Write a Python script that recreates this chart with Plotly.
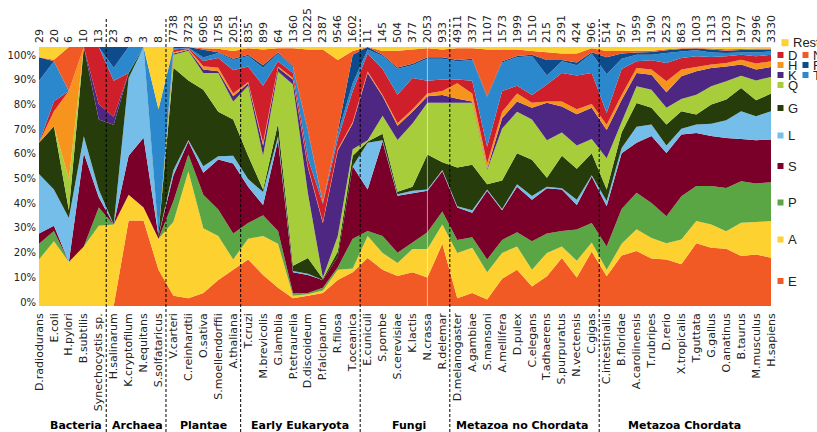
import plotly.graph_objects as go

species = ["D.radiodurans", "E.coli", "H.pylori", "B.subtilis", "Synechocystis sp.",
           "H.salinarum", "K.cryptofilum", "N.equitans", "S.solfataricus",
           "V.carteri", "C.reinhardtii", "O.sativa", "S.moellendorffii", "A.thaliana",
           "T.cruzi", "M.brevicolis", "G.lamblia", "P.tetraurelia", "D.discoideum", "P.falciparum", "R.filosa", "T.oceanica",
           "E.cuniculi", "S.pombe", "S.cerevisiae", "K.lactis", "N.crassa", "R.delemar",
           "D.melanogaster", "A.gambiae", "S.mansoni", "A.mellifera", "D.pulex", "C.elegans", "T.adhaerens", "S.purpuratus", "N.vectensis", "C.gigas",
           "C.intestinalis", "B.floridae", "A.carolinensis", "T.rubripes", "D.rerio", "X.tropicalis", "T.guttata", "G.gallus", "O.anatinus", "B.taurus", "M.musculus", "H.sapiens"]

counts = ["29", "20", "6", "10", "13", "23", "9", "3", "8",
          "7738", "3723", "6905", "1758", "2051",
          "835", "899", "64", "1360", "10225", "2387", "9546", "1602",
          "11", "145", "504", "377", "2053", "933",
          "4911", "3377", "1107", "1573", "1999", "1510", "215", "2391", "424", "906",
          "514", "957", "1959", "3190", "2523", "863", "1003", "1313", "1203", "1977", "2996", "3330"]

groups = ["Bacteria", "Archaea", "Plantae", "Early Eukaryota", "Fungi", "Metazoa no Chordata", "Metazoa Chordata"]
group_centers = [2.5, 6.6, 11, 17.5, 24.8, 32.3, 43.2]
group_bounds = [4.5, 8.5, 13.5, 21.5, 27.5, 37.5]

# layer values (percent), bottom to top
E = [0, 0, 0, 0, 0, 0, 33, 33, 14, 4, 3, 5, 10, 14, 18, 12, 7, 3, 4, 5, 10, 13, 18.5, 14, 11.6, 13, 11, 24,
     3, 5, 2.5, 10.5, 14, 7.5, 11.5, 18.5, 11, 21, 11.5, 19.5, 21.2, 18.3, 18.0, 16.1, 24.2, 22.5, 22.1, 19.3, 19.9, 18.6]
A = [18, 25, 17, 23, 31, 31.5, 10, 5, 12, 28.5, 49, 25, 17, 4, 8, 15, 17, 1, 0.5, 1, 4, 1.5, 8.5, 6.5, 5, 9, 11, 7.5,
     17.5, 17.5, 10.5, 10, 9, 6.5, 9, 4.5, 6.5, 3.5, 2.5, 4.5, 8.4, 8.0, 6.2, 9.6, 8.6, 9.0, 6.8, 12.8, 12.5, 14.2]
P = [6, 4, 0, 0, 7, 0, 0, 0, 0, 8, 6.5, 13, 10.3, 10, 6, 8, 5, 1, 0.5, 1, 1, 11.5, 2, 6.5, 4, 2.5, 6.5, 5,
     5, 4, 5, 5, 5.5, 11, 7.5, 6, 12, 7.5, 9, 13.5, 14.1, 13.5, 10.5, 16.7, 13.5, 14.8, 16.7, 16.1, 14.9, 15.0]
S = [4, 2, 0, 36, 4, 0, 15, 27, 1, 10, 5, 8.4, 19.3, 27, 14, 4, 35, 8, 7, 3, 4, 28, 16, 36.5, 22, 19, 16, 15.5,
     12.5, 9.5, 26.5, 11.5, 17.5, 16, 17.5, 16, 9.5, 18, 15.5, 21.5, 19.3, 25.8, 24.4, 23.8, 20.5, 19.3, 19.3, 16.3, 16.7, 16.5]
L = [23, 14, 17, 6.5, 3, 0, 30, 35, 0, 2, 0.6, 2.6, 1.2, 3, 3, 5, 1.5, 0.5, 0.5, 0, 0, 0, 18, 0.5, 0.5, 1, 0.5, 0.5,
     0.5, 1, 0.5, 0.5, 1, 1.5, 0.5, 0.5, 2, 0.5, 2, 2, 6.2, 4.5, 2.9, 2.2, 3.3, 4.8, 6.8, 10.7, 9.3, 10.9]
G = [12, 24.4, 3, 34.5, 27, 38.5, 2, 0, 1, 39.5, 23, 29.5, 17.2, 14, 9, 1, 5, 2, 6, 0.5, 2, 4, 0.5, 2.5, 1, 1.5, 13.5, 3,
     15, 17.5, 2, 11, 12, 14, 3.5, 12.5, 12, 8.5, 4.5, 6, 9.2, 6.4, 8.1, 6.8, 3.8, 7.4, 8.0, 9.0, 6.1, 6.8]
Q = [0, 0, 12, 0, 0, 0, 0, 0, 0, 5, 11.5, 6.5, 15, 7, 27, 13, 20, 70, 25, 0.5, 6, 2.5, 0.5, 7, 20, 24.5, 20, 23,
     25, 24, 5.5, 20, 16, 15.5, 14.5, 9, 9, 5.5, 12, 4, 6.4, 7.0, 6.4, 4.7, 7.7, 7.0, 7.1, 4.7, 7.7, 6.4]
K = [0, 0, 0, 0, 6, 3, 0, 0, 0, 0.5, 0.3, 1.3, 0.6, 2, 1, 4, 1.5, 2, 10, 21, 33, 10, 26, 7.5, 5.5, 4.5, 2.5, 3,
     1.5, 0.5, 0.5, 4, 4, 4.5, 14.5, 10, 12, 12, 11, 8.5, 5.2, 5.8, 6.0, 8.8, 9.0, 7.1, 5.7, 4.3, 4.2, 3.9]
H = [0, 5.8, 34, 0, 0, 0, 0, 0, 0, 0.5, 0.3, 1.3, 1.4, 1, 0.5, 1, 0.5, 0.5, 0.5, 0.5, 0.5, 0.5, 0.5, 0.5, 1, 1, 1, 1.5,
     6, 3, 2, 2.5, 3, 2, 0.5, 2, 2, 1.5, 2, 2, 1.9, 2.0, 4.3, 2.6, 1.7, 1.3, 1.3, 1.9, 2.3, 2.2]
D = [0, 3.9, 0, 0, 22, 14, 0, 0, 0, 1, 0.3, 2, 3.8, 9, 6, 22, 2, 2, 3, 7, 4, 12, 7, 10, 11, 12, 5, 4.5,
     1.5, 5, 6.5, 8, 3, 3, 6.5, 11, 13, 12, 4.5, 10, 2.6, 3.6, 7.0, 4.5, 4.1, 2.9, 2.6, 1.9, 2.8, 2.5]
T = [24, 15.4, 0, 0, 0, 5, 10, 0, 48, 0.5, 0.2, 1.3, 1.9, 4, 4, 7, 3, 2, 10, 0.5, 2, 3, 1.5, 5, 10, 5, 8.5, 8,
     7, 8, 19, 11, 11, 15, 3.5, 4.5, 4, 7.5, 15, 4, 2.5, 2.1, 3.9, 2.5, 2.3, 1.8, 1.3, 0.9, 1.5, 1.3]
R = [9, 0, 0, 0, 0, 8, 0, 0, 0, 0.5, 0.3, 3, 0.3, 0.5, 0.5, 1, 0.5, 0.5, 1, 0, 1, 11, 1, 0.5, 0.5, 0.5, 0.5, 0.5,
     0.5, 0.5, 0.5, 0.5, 0.5, 0.5, 6, 0.5, 1, 0.5, 6.5, 2, 0.9, 1.1, 1.0, 0.9, 0.7, 1.1, 0.9, 0.9, 1.1, 0.7]
N = [0, 0.6, 17, 0, 0, 0, 0, 0, 0, 0, 0, 0.6, 1.3, 3, 2.5, 6, 1.5, 7, 31, 59, 27.5, 1.5, 0, 1.5, 6.5, 5.5, 3.5, 3,
     4.5, 4, 18, 4.5, 2.5, 1.5, 3, 2.5, 3.5, 1.5, 2.5, 1, 0.7, 0.5, 0.4, 0.3, 0.2, 0.4, 0.5, 0.4, 0.4, 0.4]
Rest = [4, 4.9, 0, 0, 0, 0, 0, 0, 24, 0, 0, 0.5, 0.7, 1.5, 0.5, 1, 0.5, 0.5, 1, 1, 5, 1.5, 0, 1.5, 1.4, 1, 0.5, 1,
        0.5, 0.5, 1, 1, 1, 1.5, 2, 2.5, 2.5, 0.5, 1.5, 1.5, 1.4, 1.4, 0.9, 0.5, 0.4, 0.6, 0.9, 0.8, 0.6, 0.6]

layers = [("E", E), ("A", A), ("P", P), ("S", S), ("L", L), ("G", G), ("Q", Q),
          ("K", K), ("H", H), ("D", D), ("T", T), ("R", R), ("N", N), ("Rest", Rest)]

colors = {"E": "#F15A24", "A": "#FDD130", "P": "#5AA544", "S": "#7B0029", "L": "#74BEE9",
          "G": "#273C0B", "Q": "#A7CD3B", "K": "#4E2782", "H": "#F7941E", "D": "#CF1F2A",
          "T": "#2B88CC", "R": "#0D4B8C", "N": "#F15A24", "Rest": "#FDD130"}

y_ticks = ["0%", "10%", "20%", "30%", "40%", "50%", "60%", "70%", "80%", "90%", "100%"]

# figure geometry (pixels)
W, Hh = 817, 432
ML, MR, MT, MB = 39, 46, 47, 126
PW = W - ML - MR
PH = Hh - MT - MB


def px2paper_x(px):
    return (px - ML) / PW


def px2paper_y(py):
    return (Hh - MB - py) / PH


xs = list(range(len(species)))
fig = go.Figure()
for i, (name, vals) in enumerate(layers):
    kw = dict(groupnorm="percent") if i == 0 else {}
    fig.add_trace(go.Scatter(x=xs, y=vals, name=name, stackgroup="one", mode="none",
                             fillcolor=colors[name], line=dict(width=0),
                             hoverinfo="skip", **kw))

# invisible trace for the top axis
fig.add_trace(go.Scatter(x=[0, len(species) - 1], y=[0, 0], xaxis="x2", mode="markers",
                         marker=dict(opacity=0), hoverinfo="skip", showlegend=False))

axfont = dict(family="DejaVu Sans", size=11, color="#222222")
fig.update_layout(
    template="none",
    width=W, height=Hh, margin=dict(l=ML, r=MR, t=MT, b=MB, autoexpand=False),
    plot_bgcolor="white", paper_bgcolor="white", showlegend=False,
    xaxis=dict(range=[0, len(species) - 1], tickmode="array", tickvals=xs, ticktext=species,
               tickangle=-90, tickfont=axfont, showgrid=False, zeroline=False, showline=False,
               ticks="", ticklabelstandoff=4, automargin=False),
    xaxis2=dict(range=[0, len(species) - 1], overlaying="x", side="top", tickmode="array",
                tickvals=xs, ticktext=counts, tickangle=-90, tickfont=axfont, showgrid=False,
                zeroline=False, showline=False, ticks="", ticklabelstandoff=3, automargin=False),
    yaxis=dict(range=[0, 100], tickmode="array",
               tickvals=[px2paper_y(302 - 24.7 * k) * 100 for k in range(11)], ticktext=y_ticks,
               tickfont=dict(family="DejaVu Sans", size=10, color="#222222"),
               showgrid=False, zeroline=False, showline=False, ticks="", ticklabelstandoff=2,
               automargin=False),
)

shapes = []
for b in group_bounds:
    shapes.append(dict(type="line", xref="x", yref="paper", x0=b, x1=b,
                       y0=px2paper_y(432), y1=px2paper_y(18),
                       line=dict(color="black", width=1, dash="3px,2px")))
# faint light line at N.crassa
shapes.append(dict(type="line", xref="x", yref="paper", x0=26, x1=26, y0=0, y1=1,
                   line=dict(color="rgba(255,255,255,0.55)", width=1)))

annotations = []
for g, c in zip(groups, group_centers):
    annotations.append(dict(text="<b>" + g + "</b>", x=c, xref="x", y=px2paper_y(425), yref="paper",
                            showarrow=False, xanchor="center", yanchor="middle",
                            font=dict(family="DejaVu Sans", size=11, color="black")))

# right-hand labels
legend_items = [("Rest", 785, 42.7, 7), ("D", 780.5, 55, 6), ("N", 805.5, 55, 6),
                ("H", 780.5, 65, 6), ("R", 805.5, 65, 6), ("K", 780.5, 75, 6), ("T", 805.5, 75, 6),
                ("Q", 780.5, 85, 6), ("G", 780.5, 108, 6), ("L", 780.5, 135.5, 6),
                ("S", 780.5, 166, 6), ("P", 780.5, 202.5, 6), ("A", 780.5, 239.5, 6), ("E", 780.5, 281, 6)]
for name, cx, cy, s in legend_items:
    shapes.append(dict(type="rect", xref="paper", yref="paper",
                       x0=px2paper_x(cx - s / 2), x1=px2paper_x(cx + s / 2),
                       y0=px2paper_y(cy + s / 2), y1=px2paper_y(cy - s / 2),
                       fillcolor=colors[name], line=dict(width=0)))
    annotations.append(dict(text=name, x=px2paper_x(cx + s / 2 + 2.5), xref="paper",
                            y=px2paper_y(cy), yref="paper", showarrow=False,
                            xanchor="left", yanchor="middle",
                            font=dict(family="Liberation Sans", size=13, color="#222222")))

fig.update_layout(shapes=shapes, annotations=annotations)
fig.write_html("out.html", config={"displayModeBar": False},
               post_script="document.body.style.margin='0';document.body.style.overflow='hidden';")
